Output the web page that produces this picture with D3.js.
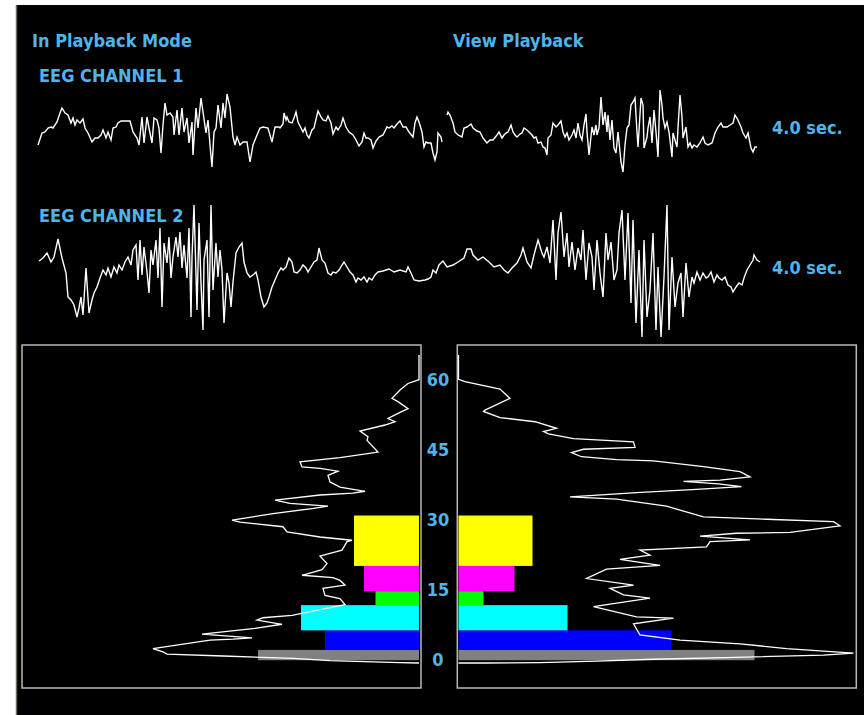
<!DOCTYPE html>
<html><head><meta charset="utf-8">
<script src="https://cdn.jsdelivr.net/npm/d3@7"></script>
<style>
html,body{margin:0;padding:0;background:#fff;}
svg{display:block;}
</style></head>
<body>
<svg id="chart" width="868" height="715"></svg>
<script>
// ---------------- DATA ----------------
const titleLeft = "In Playback Mode";
const titleRight = "View Playback";
const channelNames = ["EEG CHANNEL 1", "EEG CHANNEL 2"];
const durationLabel = "4.0 sec.";
const freqTicks = [0, 15, 30, 45, 60];

// EEG samples: [sample index (180 Hz, 4.0 s), amplitude]; null = gap
const ch1 = [[0,-15],[4,-3],[7,-2],[10,2],[13,3],[15,2],[19,8],[22,17],[24,22],[27,17],[30,15],[33,7],[35,12],[37,5],[39,10],[42,7],[45,11],[47,2],[50,-3],[54,-12],[57,-8],[60,-8],[63,-5],[65,0],[68,-8],[70,-2],[73,-10],[75,2],[78,3],[80,7],[83,9],[87,9],[92,9],[95,-2],[99,-8],[101,-15],[104,13],[106,-13],[109,13],[111,2],[114,-13],[116,12],[119,10],[121,2],[123,-23],[125,5],[127,27],[129,15],[132,17],[135,13],[136,-5],[139,20],[141,-5],[144,22],[146,-2],[149,12],[151,-13],[154,8],[155,-25],[158,22],[160,2],[163,32],[165,18],[168,-3],[170,10],[172,-15],[174,-37],[176,-2],[178,2],[180,25],[183,2],[185,27],[187,12],[189,36],[192,23],[195,-7],[197,-15],[199,-7],[202,-15],[205,-12],[209,-12],[212,-32],[215,-15],[219,-5],[222,2],[225,3],[230,2],[234,-12],[237,3],[241,3],
[242,2],[245,6],[246,17],[248,10],[249,13],[251,8],[254,7],[256,12],[258,18],[260,8],[263,2],[265,-2],[267,2],[269,-5],[271,-8],[274,0],[276,2],[279,15],[280,19],[283,13],[285,10],[288,9],[290,14],[293,7],[295,-4],[298,3],[300,0],[303,5],[305,12],[308,3],[311,-2],[315,-5],[318,-10],[321,-16],[324,-12],[326,-3],[328,-8],[330,-8],[333,-10],[335,-18],[338,-11],[341,-7],[345,-5],[349,3],[351,2],[354,4],[356,2],[359,6],[362,9],[365,3],[368,3],[371,-2],[375,-7],[377,7],[379,13],[381,8],[384,-2],[386,-17],[388,-12],[390,-13],[393,-13],[395,-23],[397,-30],[399,-22],[400,-3],[403,-7],[404,-12],[406,null],
[409,15],[410,18],[412,15],[415,7],[417,-2],[420,-5],[424,-7],[426,2],[429,3],[433,6],[435,2],[439,-1],[442,-2],[445,-8],[449,-13],[452,-10],[455,-10],[459,-5],[461,-2],[464,-8],[466,-5],[468,-3],[470,-2],[473,5],[475,-2],[477,-5],[479,-7],[482,-4],
[484,-3],[486,2],[489,0],[491,-2],[494,-5],[496,-8],[498,-7],[500,-13],[503,-12],[505,-17],[507,-18],[509,-25],[510,-8],[513,-5],[515,7],[518,3],[520,5],[523,9],[525,-2],[527,-7],[529,-3],[531,-10],[534,-5],[536,0],[538,-8],[540,7],[542,-5],[544,-10],[546,5],[548,16],[549,-2],[551,-25],[554,3],[556,-5],[558,5],[559,-5],[561,2],[563,33],[565,5],[567,18],[569,-2],[570,15],[572,-10],[574,10],[576,-18],[578,-23],[580,-2],[583,-32],[585,-42],[587,-15],[589,2],[591,5],[593,25],[595,28],[597,32],[599,-2],[600,-17],[603,32],[605,25],[606,-18],[609,-7],[610,2],[612,13],[614,-13],[616,20],[618,-2],[620,-27],[622,40],[624,25],[625,12],[627,2],[629,8],[631,-2],[634,-27],[635,-3],[637,-10],[639,-17],[640,2],[642,35],[644,13],[645,-8],[648,3],[650,-17],[652,-13],[654,-18],[656,-15],[659,-17],[662,-13],[665,-7],[667,-13],[670,-15],[674,-13],[677,-3],[680,3],[683,7],[685,3],[689,3],[692,5],[695,7],[697,15],[700,10],[703,3],[705,-3],[708,-8],[710,-3],[713,-18],[715,-22],[717,-17],[719,-17]];

const ch2 = [[1,4],[5,7],[9,12],[13,3],[16,8],[20,26],[24,7],[28,-8],[30,-32],[33,-35],[36,-40],[39,-52],[41,-43],[43,-32],[45,-50],[48,-3],[51,-48],[54,-35],[56,-28],[59,-22],[62,-13],[65,-5],[68,-10],[70,-3],[73,-12],[76,-2],[79,-8],[81,0],[84,-5],[87,3],[90,8],[93,0],[95,15],[98,20],[100,-15],[102,25],[104,-10],[106,18],[109,-7],[111,-28],[113,15],[115,0],[118,25],[120,-13],[122,37],[124,-42],[126,22],[129,2],[131,28],[133,-13],[135,8],[138,28],[140,8],[142,33],[144,-3],[146,20],[149,-13],[151,37],[153,-52],[154,8],[156,60],[159,-45],[161,42],[163,-18],[165,-65],[166,5],[169,25],[171,-52],[173,60],[175,-25],[178,22],[180,-12],[182,15],[184,-5],[186,-58],[189,-8],[191,-18],[193,-42],[195,-17],[198,12],[201,18],[204,22],[206,3],[209,-8],[212,-12],[215,-10],[218,-7],[220,-15],[223,-32],[226,-42],[229,-38],[231,-32],[234,-22],[237,-15],[240,-8],[243,-3],[245,-5],[248,-2],[251,7],[254,3],[256,-7],[259,-8],[262,-5],[265,0],[268,-3],[270,-7],[273,-2],[276,3],[279,5],[281,17],[284,5],[287,2],[290,-8],[293,-10],[295,-7],[298,-8],[301,-5],[304,0],[306,3],[309,-2],[312,-7],[315,-10],[318,-17],[320,-13],[323,-15],[326,-12],[329,-17],[331,-13],[334,-15],[337,-10],[340,-7],[345,-6],[351,-4],[356,-7],[362,-5],[368,-7],[370,-2],[373,-8],[376,-15],[381,-16],[387,-15],[390,-14],[393,-12],[395,-5],[398,-8],[401,0],[404,3],[405,4],[409,-2],[415,0],[420,3],[426,7],[429,16],[433,16],[435,10],[440,5],[445,8],[451,3],[456,-2],[462,0],[466,-5],[470,-8],[474,-3],[479,2],[483,10],[485,17],[489,3],[493,-3],[496,10],[500,25],[504,12],[506,8],[509,18],[512,2],[515,45],[518,-15],[520,32],[523,53],[526,8],[529,32],[531,-2],[534,23],[537,-5],[540,17],[543,5],[545,35],[548,-15],[551,22],[554,8],[556,-25],[559,25],[562,-8],[565,-32],[568,32],[570,5],[573,23],[576,-15],[579,-5],[581,32],[584,55],[587,-15],[590,52],[593,-38],[595,45],[598,-58],[601,15],[604,-72],[606,25],[609,-52],[612,-25],[615,32],[618,-65],[620,-2],[623,-72],[626,-12],[629,60],[631,-65],[634,8],[637,-42],[640,-18],[643,-8],[645,-52],[648,2],[651,-32],[654,-12],[656,-18],[659,-7],[662,-15],[665,-8],[668,-13],[670,-12],[673,-7],[676,-17],[679,-10],[681,-13],[684,-15],[687,-12],[690,-20],[693,-22],[695,-27],[698,-22],[701,-18],[704,-20],[706,-13],[709,-5],[712,0],[715,5],[716,10],[719,5],[722,3]];

// Spectra: [frequency (Hz), power]
const leftSpectrum = [[66.0,0],[60.7,0],[59.9,11],[58.5,19],[56.7,27],[56.0,21],[54.5,11],[53.5,21],[52.4,31],[51.7,24],[51.0,34],[49.7,59],[48.5,51],[47.7,52],[45.2,41],[44.0,79],[43.1,119],[42.0,117],[41.7,99],[41.1,81],[40.2,91],[38.8,89],[37.7,79],[36.8,54],[36.4,66],[36.0,99],[34.9,144],[34.2,129],[33.6,91],[33.1,107],[32.0,146],[30.6,187],[30.2,179],[29.2,136],[28.1,132],[27.0,99],[26.3,67],[26.0,72],[24.2,77],[23.5,89],[22.9,99],[21.3,92],[20.0,97],[18.8,117],[18.3,86],[17.7,79],[16.7,74],[16.0,96],[14.5,94],[13.8,79],[12.5,74],[10.2,127],[9.7,156],[9.2,162],[8.3,137],[7.4,164],[6.2,217],[5.4,167],[5.1,186],[4.9,209],[3.1,266],[2.4,256],[1.9,252],[1.5,196],[1.0,126],[0.5,89],[0.3,54],[0.1,19],[0,0]];
const rightSpectrum = [[66.0,0],[60.8,0],[60.3,6.5],[58.7,41.5],[56.7,51.5],[54.2,26.5],[53.9,25],[52.6,41.5],[51.7,76.5],[50.3,98],[49.6,85],[49.1,90],[48.1,115],[47.4,175],[46.2,176.5],[45.8,125],[45.1,113],[44.2,123],[43.6,158],[43.3,195],[42.1,245],[41.0,281.5],[39.9,291.5],[39.2,261.5],[38.9,225],[38.4,260],[37.8,283],[37.2,238],[36.5,178],[35.6,111.5],[35.1,158],[33.6,208],[31.3,245],[30.8,308],[30.3,375],[29.4,381.5],[28.0,331.5],[27.8,278],[27.2,241.5],[26.4,291.5],[26.0,251.5],[24.9,248],[24.2,181.5],[23.1,191.5],[22.2,161.5],[20.9,201.5],[20.1,148],[18.1,128],[16.7,175],[16.0,151.5],[14.6,165],[13.9,191.5],[12.1,135],[9.9,178],[9.6,215],[8.4,175],[6.0,181.5],[4.9,221.5],[4.1,281.5],[3.1,328],[2.1,395],[1.7,365],[1.2,278],[0.8,195],[0.4,138],[0.1,81.5],[0,28],[0,0]];

// Frequency bands
const bandLow  = [0.6, 2.8, 7.0, 12.4, 15.4, 20.8];
const bandHigh = [2.8, 7.0, 12.4, 15.4, 20.8, 31.6];
const bandColors = ["#808080", "#0000ff", "#00ffff", "#00ff00", "#ff00ff", "#ffff00"];
const leftBandPower  = [161, 94, 118, 43.5, 55, 65];
const rightBandPower = [296, 213, 109, 25, 56, 74];

// ---------------- DRAW ----------------
const svg = d3.select("#chart");
const blue = "#4fb4ea";
const font = "'DejaVu Sans Condensed', 'Liberation Sans Narrow', 'Roboto Condensed', sans-serif";

svg.append("rect").attr("x", 16).attr("y", 5).attr("width", 848).attr("height", 710).attr("fill", "#000");
svg.append("line").attr("x1", 16.5).attr("x2", 16.5).attr("y1", 5).attr("y2", 715).attr("stroke", "#6a675e").attr("stroke-width", 1.5);

function label(x, y, txt, anchor) {
  svg.append("text").attr("x", x).attr("y", y).attr("fill", blue)
    .attr("font-family", font).attr("font-weight", "bold").attr("font-size", 18)
    .attr("text-anchor", anchor || "start").text(txt);
}
label(32, 47, titleLeft);
label(453, 47, titleRight);
label(39, 82, channelNames[0]);
label(39, 222, channelNames[1]);
label(772, 134, durationLabel);
label(772, 274, durationLabel);

// EEG
const tx = d3.scaleLinear().domain([0, 720]).range([38, 758]);
const ay1 = d3.scaleLinear().domain([-50, 50]).range([180, 80]);
const ay2 = d3.scaleLinear().domain([-50, 50]).range([315, 215]);
const l1 = d3.line().defined(d => d[1] !== null).x(d => tx(d[0])).y(d => ay1(d[1]));
const l2 = d3.line().defined(d => d[1] !== null).x(d => tx(d[0])).y(d => ay2(d[1]));
svg.append("path").attr("d", l1(ch1)).attr("fill", "none").attr("stroke", "#fff").attr("stroke-width", 1.4);
svg.append("path").attr("d", l2(ch2)).attr("fill", "none").attr("stroke", "#fff").attr("stroke-width", 1.4);

// Spectrum panels
const fy = d3.scaleLinear().domain([0, 60]).range([663, 383]);
const pxL = d3.scaleLinear().domain([0, 400]).range([419, 19]);
const pxR = d3.scaleLinear().domain([0, 400]).range([458.5, 858.5]);

svg.append("rect").attr("x", 22).attr("y", 345).attr("width", 399).attr("height", 343)
  .attr("fill", "none").attr("stroke", "#b8b8b8").attr("stroke-width", 1.5);
svg.append("rect").attr("x", 457.3).attr("y", 345).attr("width", 399).attr("height", 343)
  .attr("fill", "none").attr("stroke", "#b8b8b8").attr("stroke-width", 1.5);

const idx = d3.range(bandLow.length);
svg.append("g").selectAll("rect").data(idx).join("rect")
  .attr("x", i => pxL(leftBandPower[i])).attr("width", i => pxL(0) - pxL(leftBandPower[i]))
  .attr("y", i => fy(bandHigh[i])).attr("height", i => fy(bandLow[i]) - fy(bandHigh[i]))
  .attr("fill", i => bandColors[i]);
svg.append("g").selectAll("rect").data(idx).join("rect")
  .attr("x", pxR(0)).attr("width", i => pxR(rightBandPower[i]) - pxR(0))
  .attr("y", i => fy(bandHigh[i])).attr("height", i => fy(bandLow[i]) - fy(bandHigh[i]))
  .attr("fill", i => bandColors[i]);

const sl = d3.line().x(d => pxL(d[1])).y(d => fy(d[0]));
const sr = d3.line().x(d => pxR(d[1])).y(d => fy(d[0]));
svg.append("path").attr("d", sl(leftSpectrum)).attr("fill", "none").attr("stroke", "#fff").attr("stroke-width", 1.3);
svg.append("path").attr("d", sr(rightSpectrum)).attr("fill", "none").attr("stroke", "#fff").attr("stroke-width", 1.3);

svg.append("g").selectAll("text").data(freqTicks).join("text")
  .attr("x", 438).attr("y", d => fy(d) - 3).attr("dy", "0.36em")
  .attr("text-anchor", "middle").attr("fill", blue)
  .attr("font-family", font).attr("font-weight", "bold").attr("font-size", 18)
  .text(d => d);
</script>
</body></html>
